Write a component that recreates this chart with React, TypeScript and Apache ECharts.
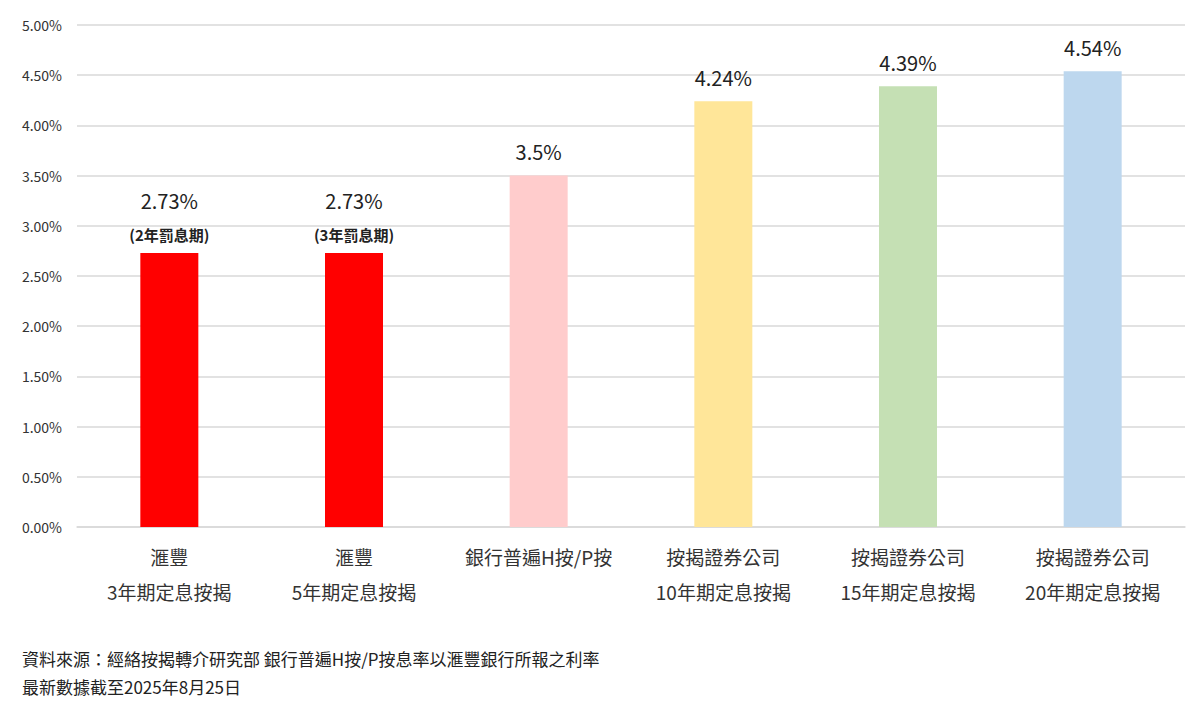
import React, { useEffect, useRef } from "react";
import * as echarts from "echarts";

const categories = [
  "滙豐\n3年期定息按揭",
  "滙豐\n5年期定息按揭",
  "銀行普遍H按/P按",
  "按揭證券公司\n10年期定息按揭",
  "按揭證券公司\n15年期定息按揭",
  "按揭證券公司\n20年期定息按揭",
];
const rates = [2.73, 2.73, 3.5, 4.24, 4.39, 4.54];
const subLabels = ["(2年罰息期)", "(3年罰息期)", "", "", "", ""];
const barColors = ["#FF0000", "#FF0000", "#FFCCCC", "#FFE699", "#C5E0B4", "#BDD7EE"];
const yTicks = { min: 0, max: 5, interval: 0.5 };
const footnotes = [
  "資料來源：經絡按揭轉介研究部 銀行普遍H按/P按息率以滙豐銀行所報之利率",
  "最新數據截至2025年8月25日",
];

const FONT = '"Noto Sans CJK TC", "Noto Sans", sans-serif';

export default function App() {
  const ref = useRef<HTMLDivElement>(null);
  useEffect(() => {
    if (!ref.current) return;
    const chart = echarts.init(ref.current, null, { renderer: "svg" });
    const data = rates.map((v, i) => {
      const item: any = { value: v, itemStyle: { color: barColors[i] } };
      if (subLabels[i]) {
        item.label = {
          show: true,
          position: "top",
          distance: 8,
          formatter: `{a|${v}%}\n{b|${subLabels[i]}}`,
          rich: {
            a: { fontSize: 20, color: "#222", fontFamily: FONT, lineHeight: 48 },
            b: { fontSize: 15, color: "#222", fontWeight: 600, fontFamily: FONT, lineHeight: 20 },
          },
        };
      }
      return item;
    });
    chart.setOption({
      animation: false,
      backgroundColor: "#fff",
      textStyle: { fontFamily: FONT },
      grid: { left: 77, right: 15, top: 25, bottom: 192, containLabel: false },
      xAxis: {
        type: "category",
        data: categories,
        axisLine: { lineStyle: { color: "#d9d9d9", width: 1.5 } },
        axisTick: { show: false },
        axisLabel: {
          interval: 0,
          margin: 12,
          fontSize: 19,
          lineHeight: 35,
          color: "#333",
          fontFamily: FONT,
        },
      },
      yAxis: {
        type: "value",
        min: yTicks.min,
        max: yTicks.max,
        interval: yTicks.interval,
        axisLine: { show: false },
        axisTick: { show: false },
        splitLine: { lineStyle: { color: "#d9d9d9", width: 1.5 } },
        axisLabel: {
          formatter: (v: number) => v.toFixed(2) + "%",
          fontSize: 14,
          color: "#333",
          margin: 15,
          fontFamily: FONT,
        },
      },
      series: [
        {
          type: "bar",
          data,
          barWidth: 58,
          label: {
            show: true,
            position: "top",
            distance: 14,
            fontSize: 20,
            color: "#222",
            fontFamily: FONT,
            formatter: (p: any) => p.value + "%",
          },
        },
      ],
      graphic: footnotes.map((t, i) => ({
        type: "text",
        left: 22,
        top: 650 + i * 28,
        style: { text: t, fontSize: 17, fill: "#222", fontFamily: FONT },
      })),
    });
    return () => chart.dispose();
  }, []);
  return (
    <div
      ref={ref}
      style={{ position: "fixed", left: 0, top: 0, width: 1200, height: 719, background: "#fff" }}
    />
  );
}
